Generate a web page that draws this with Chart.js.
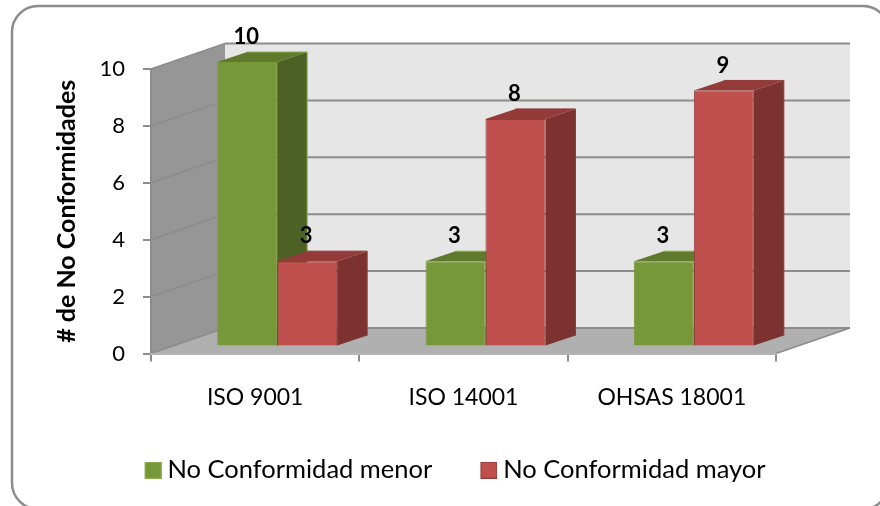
<!DOCTYPE html>
<html>
<head>
<meta charset="utf-8">
<title>No Conformidades</title>
<script src="https://cdn.jsdelivr.net/npm/chart.js@4"></script>
<style>
html, body { margin: 0; padding: 0; background: #fff; overflow: hidden; }
canvas { display: block; }
</style>
</head>
<body>
<canvas id="Main_Chart" width="880" height="506"></canvas>
<script>
const Categories = ["ISO 9001", "ISO 14001", "OHSAS 18001"];
const Menor_Values = [10, 3, 3];
const Mayor_Values = [3, 8, 9];
const Series_Names = ["No Conformidad menor", "No Conformidad mayor"];
const Y_Ticks = [0, 2, 4, 6, 8, 10];
const Axis_Title = "# de No Conformidades";

const Font_Name = "Lato";
const Wall_Dx = 74, Wall_Dy = -25.5;
const Bar_Dx = 30, Bar_Dy = -10;
const Bar_Shift_X = 22, Bar_Shift_Y = -7;
const Legend_Shift_X = 41, Legend_Shift_Y = -4;

const Series_Colors = [
    { front: "#779839", side: "#4e6125", top: "#5f7a2d", edge: "#8fb04c" },
    { front: "#bf504d", side: "#7c3231", top: "#933b38", edge: "#923a38" }
];

function Poly(Ctx, Points, Fill) {
    Ctx.beginPath();
    Points.forEach(function (P, I) {
        if (I === 0) Ctx.moveTo(P[0], P[1]); else Ctx.lineTo(P[0], P[1]);
    });
    Ctx.closePath();
    Ctx.fillStyle = Fill;
    Ctx.fill();
}

function Line(Ctx, X1, Y1, X2, Y2, Color, Width) {
    Ctx.beginPath();
    Ctx.moveTo(X1, Y1);
    Ctx.lineTo(X2, Y2);
    Ctx.strokeStyle = Color;
    Ctx.lineWidth = Width;
    Ctx.stroke();
}

// legend swatch with transparent room on the left, so the text sits closer to it
function Make_Swatch(Colors) {
    const Swatch = document.createElement("canvas");
    Swatch.width = 24;
    Swatch.height = 17;
    const Ctx = Swatch.getContext("2d");
    Ctx.fillStyle = Colors.front;
    Ctx.fillRect(7, 0, 17, 17);
    Ctx.strokeStyle = Colors.edge;
    Ctx.lineWidth = 1;
    Ctx.strokeRect(7.5, 0.5, 16, 16);
    return Swatch;
}

// card outline and the 3D walls behind the bars
const Walls_Plugin = {
    id: "walls",
    afterLayout: function (Chart_Obj) {
        const Legend = Chart_Obj.legend;
        Legend.left += Legend_Shift_X;
        Legend.right += Legend_Shift_X;
        Legend.top += Legend_Shift_Y;
        Legend.bottom += Legend_Shift_Y;
    },
    beforeDraw: function (Chart_Obj) {
        const Ctx = Chart_Obj.ctx;
        const Y = Chart_Obj.scales.y;
        const X = Chart_Obj.scales.x;
        const Left = X.left, Right = X.right;
        const Y0 = Y.getPixelForValue(0), Y10 = Y.getPixelForValue(10);
        Ctx.save();
        Ctx.beginPath();
        Ctx.roundRect(12, 6, 877, 503, 26);
        Ctx.strokeStyle = "#8c8c8c";
        Ctx.lineWidth = 2.5;
        Ctx.stroke();

        Poly(Ctx, [[Left + Wall_Dx, Y10 + Wall_Dy], [Right + Wall_Dx, Y10 + Wall_Dy], [Right + Wall_Dx, Y0 + Wall_Dy], [Left + Wall_Dx, Y0 + Wall_Dy]], "#e6e6e6");
        Poly(Ctx, [[Left, Y10], [Left + Wall_Dx, Y10 + Wall_Dy], [Left + Wall_Dx, Y0 + Wall_Dy], [Left, Y0]], "#969696");
        Poly(Ctx, [[Left, Y0], [Left + Wall_Dx, Y0 + Wall_Dy], [Right + Wall_Dx, Y0 + Wall_Dy], [Right, Y0]], "#b0b0b0");

        Y_Ticks.forEach(function (V) {
            const P = Y.getPixelForValue(V);
            Line(Ctx, Left, P, Left + Wall_Dx, P + Wall_Dy, "#8c8c8c", 1.5);
            Line(Ctx, Left + Wall_Dx, P + Wall_Dy, Right + Wall_Dx, P + Wall_Dy, "#8c8c8c", 2);
        });
        Line(Ctx, Right, Y0, Right + Wall_Dx, Y0 + Wall_Dy, "#8c8c8c", 1.5);
        Line(Ctx, Left, Y10, Left, Y0, "#8c8c8c", 2);
        Ctx.restore();
    }
};

// side and top faces of the bars, front faces are drawn by the library after them
const Bars_3D_Plugin = {
    id: "bars3d",
    beforeDatasetsDraw: function (Chart_Obj) {
        const Ctx = Chart_Obj.ctx;
        Ctx.save();
        Ctx.translate(Bar_Shift_X, Bar_Shift_Y);
        Chart_Obj.data.datasets.forEach(function (Ds, Di) {
            const Colors = Series_Colors[Di];
            Chart_Obj.getDatasetMeta(Di).data.forEach(function (Bar) {
                const L = Bar.x - Bar.width / 2, R = Bar.x + Bar.width / 2;
                const T = Bar.y, B = Bar.base;
                Poly(Ctx, [[R, T], [R + Bar_Dx, T + Bar_Dy], [R + Bar_Dx, B + Bar_Dy], [R, B]], Colors.side);
                Poly(Ctx, [[L, T], [L + Bar_Dx, T + Bar_Dy], [R + Bar_Dx, T + Bar_Dy], [R, T]], Colors.top);
                Line(Ctx, R + Bar_Dx, T + Bar_Dy, R + Bar_Dx, B + Bar_Dy, Colors.edge, 1);
                Line(Ctx, L + Bar_Dx, T + Bar_Dy, R + Bar_Dx, T + Bar_Dy, Colors.edge, 1);
            });
        });
        Ctx.restore();
    },
    beforeDatasetDraw: function (Chart_Obj) {
        Chart_Obj.ctx.save();
        Chart_Obj.ctx.translate(Bar_Shift_X, Bar_Shift_Y);
    },
    afterDatasetDraw: function (Chart_Obj) {
        Chart_Obj.ctx.restore();
    },
    afterDatasetsDraw: function (Chart_Obj) {
        const Ctx = Chart_Obj.ctx;
        Ctx.save();
        Ctx.fillStyle = "#000";
        Ctx.font = "bold 22px " + Font_Name;
        Ctx.textAlign = "center";
        Ctx.textBaseline = "middle";
        Chart_Obj.data.datasets.forEach(function (Ds, Di) {
            Chart_Obj.getDatasetMeta(Di).data.forEach(function (Bar, I) {
                Ctx.fillText(String(Ds.data[I]), Bar.x + Bar_Shift_X - 1, Bar.y + Bar_Shift_Y - 25);
            });
        });
        Ctx.restore();
    }
};

const Swatches = Series_Colors.map(Make_Swatch);

new Chart(document.getElementById("Main_Chart"), {
    type: "bar",
    data: {
        labels: Categories,
        datasets: [
            { label: Series_Names[0], data: Menor_Values, backgroundColor: Series_Colors[0].front, borderColor: Series_Colors[0].front, borderWidth: 1, barPercentage: 1, categoryPercentage: 0.576, clip: false },
            { label: Series_Names[1], data: Mayor_Values, backgroundColor: Series_Colors[1].front, borderColor: Series_Colors[1].edge, borderWidth: 1, barPercentage: 1, categoryPercentage: 0.576, clip: false }
        ]
    },
    options: {
        responsive: false,
        animation: false,
        layout: { padding: { left: 52, right: 104, top: 69, bottom: 9 } },
        plugins: {
            title: { display: false },
            tooltip: { enabled: false },
            legend: {
                display: true,
                position: "bottom",
                labels: {
                    usePointStyle: true,
                    boxWidth: 10.25,
                    boxHeight: 17,
                    padding: 48,
                    color: "#000",
                    font: { family: Font_Name, size: 25.5 },
                    generateLabels: function (Chart_Obj) {
                        return Chart.defaults.plugins.legend.labels.generateLabels(Chart_Obj).map(function (Item, I) {
                            Item.pointStyle = Swatches[I];
                            return Item;
                        });
                    }
                }
            }
        },
        scales: {
            x: {
                afterFit: function (Scale) { Scale.height = 60; },
                border: { color: "#b4b4b4", width: 2 },
                grid: { drawOnChartArea: false, offset: true, color: "#8c8c8c", lineWidth: 2, tickLength: 8 },
                ticks: { color: "#000", padding: 22, maxRotation: 0, font: { family: Font_Name, size: 23 } }
            },
            y: {
                min: 0,
                max: 10,
                afterFit: function (Scale) { Scale.width = 99; },
                border: { display: false },
                title: { display: true, text: Axis_Title, color: "#000", padding: 0, font: { family: Font_Name, size: 25, weight: "bold" } },
                grid: { drawOnChartArea: false, color: "#8c8c8c", lineWidth: 2, tickLength: 8 },
                ticks: { stepSize: 2, color: "#000", padding: 18, font: { family: Font_Name, size: 22 } }
            }
        }
    },
    plugins: [Walls_Plugin, Bars_3D_Plugin]
});
</script>
</body>
</html>
